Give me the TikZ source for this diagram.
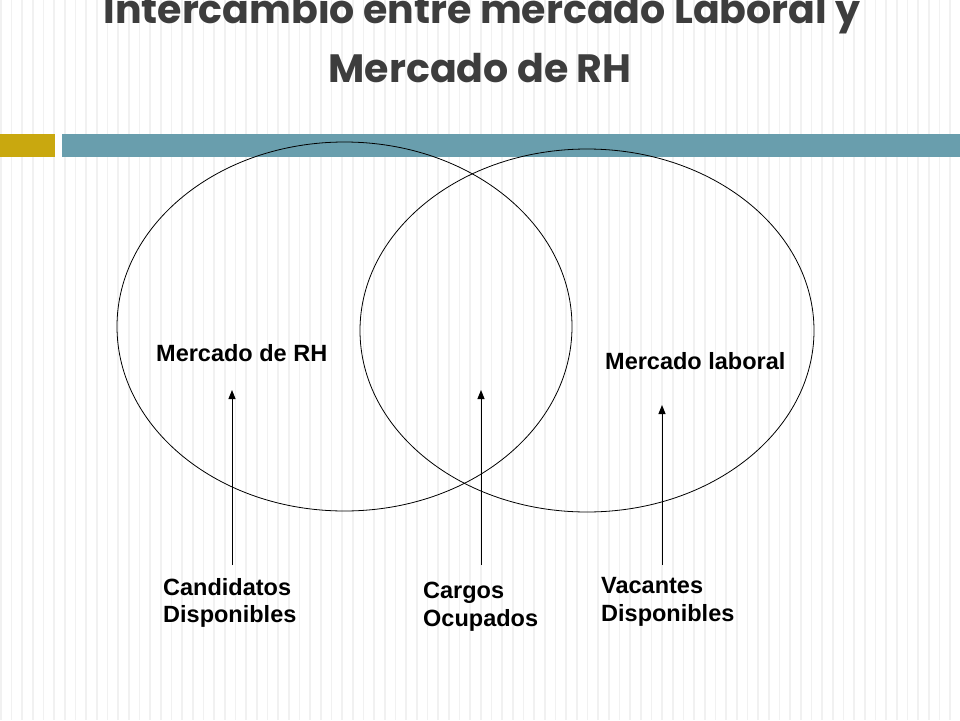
\documentclass[tikz,border=0pt]{standalone}
\usepackage{fontspec}
\usepackage{xcolor}
\usetikzlibrary{shapes.geometric,arrows.meta}
\setmainfont{Liberation Sans}
\newfontfamily\titlefont{Poppins}
\definecolor{gold}{rgb}{0.79, 0.66, 0.06}
\definecolor{barblue}{rgb}{0.41, 0.62, 0.68}
\definecolor{stripe}{rgb}{0.945, 0.945, 0.945}
\definecolor{titlegray}{rgb}{0.24, 0.24, 0.24}

\begin{document}
\begin{tikzpicture}[x=1pt,y=-1pt,
        venn/.style={draw,ellipse,line width=0.8pt,inner sep=0pt},
        lbl/.style={font=\fontsize{23.5}{27.7}\selectfont\bfseries,inner sep=0pt,anchor=north west,align=left},
        ttl/.style={font=\titlefont\fontsize{39.5}{44}\selectfont\bfseries,text=titlegray,inner sep=0pt,anchor=base},
        up/.style={line width=1pt,-{Triangle[length=9pt,width=7pt]}}]
    \useasboundingbox (0,0) rectangle (960,720);
    \fill[white] (0,0) rectangle (960,720);
    \foreach \i in {0,...,89}{ % faint vertical stripes
        \fill[stripe] (\i*10.667,0) rectangle (\i*10.667+1.5,720);
    }
    \node[ttl] (title1) at (482,23) {Intercambio entre mercado Laboral y};
    \node[ttl] (title2) at (480,82) {Mercado de RH};
    \fill[gold] (0,134) rectangle (55,157);
    \fill[barblue] (62,134) rectangle (960,157);
    \node[venn,minimum width=455pt,minimum height=369pt] (rh) at (344.5,326.5) {};
    \node[venn,minimum width=454pt,minimum height=363pt] (lab) at (587,330.5) {};
    \node[lbl] (rhlbl) at (156,344) {Mercado de RH};
    \node[lbl] (lablbl) at (605,352) {Mercado laboral};
    \node[lbl] (cand) at (163,578) {Candidatos\\Disponibles};
    \node[lbl] (carg) at (423,582) {Cargos\\Ocupados};
    \node[lbl] (vac) at (601,577) {Vacantes\\Disponibles};
    \coordinate (candfoot) at (232,565);
    \coordinate (candtip) at (232,390);
    \coordinate (cargfoot) at (481,565);
    \coordinate (cargtip) at (481,390);
    \coordinate (vacfoot) at (662,565);
    \coordinate (vactip) at (662,405);
    \draw[up] (candfoot) -- (candtip);
    \draw[up] (cargfoot) -- (cargtip);
    \draw[up] (vacfoot) -- (vactip);
\end{tikzpicture}
\end{document}
